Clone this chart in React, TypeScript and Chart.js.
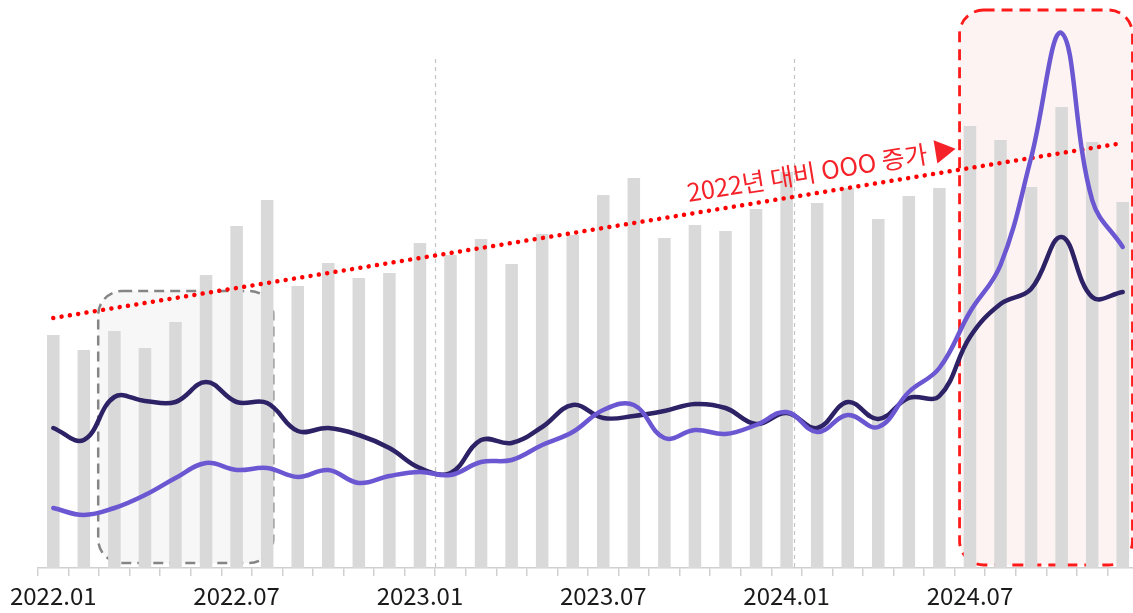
import React, { useEffect, useRef } from "react";
import { Chart, registerables } from "chart.js";

Chart.register(...registerables);

const categories = [
  "2022.01", "2022.02", "2022.03", "2022.04", "2022.05", "2022.06",
  "2022.07", "2022.08", "2022.09", "2022.10", "2022.11", "2022.12",
  "2023.01", "2023.02", "2023.03", "2023.04", "2023.05", "2023.06",
  "2023.07", "2023.08", "2023.09", "2023.10", "2023.11", "2023.12",
  "2024.01", "2024.02", "2024.03", "2024.04", "2024.05", "2024.06",
  "2024.07", "2024.08", "2024.09", "2024.10", "2024.11", "2024.12",
];

const tickLabels = ["2022.01", "2022.07", "2023.01", "2023.07", "2024.01", "2024.07"];

const barValues = [
  233, 218, 237, 220, 246, 293, 342, 368, 282, 305, 290, 295,
  325, 313, 329, 304, 334, 333, 373, 390, 330, 343, 337, 359,
  396, 365, 380, 349, 372, 380, 442, 428, 381, 461, 426, 366,
];

const navyValues = [
  140, 128, 171, 167, 166, 186, 166, 165, 137, 140, 133, 120,
  100, 95, 128, 125, 141, 163, 150, 152, 157, 164, 160, 144,
  155, 140, 166, 149, 170, 172, 231, 264, 279, 331, 271, 276,
];

const purpleValues = [
  60, 53, 60, 73, 90, 105, 98, 100, 91, 98, 85, 92,
  96, 93, 106, 108, 123, 136, 158, 163, 130, 138, 134, 143,
  156, 136, 153, 141, 176, 200, 256, 303, 410, 535, 368, 321,
];

const trendEnds = [250, 425];

const annotationText = "2022년 대비 OOO 증가 ▶";

const FONT = '"Noto Sans CJK KR", "Noto Sans", sans-serif';

function roundRect(ctx: CanvasRenderingContext2D, x: number, y: number, w: number, h: number, r: number) {
  ctx.beginPath();
  ctx.moveTo(x + r, y);
  ctx.lineTo(x + w - r, y);
  ctx.arcTo(x + w, y, x + w, y + r, r);
  ctx.lineTo(x + w, y + h - r);
  ctx.arcTo(x + w, y + h, x + w - r, y + h, r);
  ctx.lineTo(x + r, y + h);
  ctx.arcTo(x, y + h, x, y + h - r, r);
  ctx.lineTo(x, y + r);
  ctx.arcTo(x, y, x + r, y, r);
  ctx.closePath();
}

const backgroundPlugin = {
  id: "bgAnnotations",
  beforeDatasetsDraw(chart: any) {
    const { ctx, scales } = chart;
    const xs = scales.x;
    const ys = scales.y;
    const step = xs.getPixelForValue(1) - xs.getPixelForValue(0);
    const px = (v: number) => xs.getPixelForValue(0) + v * step;
    ctx.save();

    // vertical dashed separators
    ctx.strokeStyle = "#c4c4c4";
    ctx.lineWidth = 1.2;
    ctx.setLineDash([4, 4]);
    [12.5, 24.23].forEach((v) => {
      const x = Math.round(px(v)) + 0.5;
      ctx.beginPath();
      ctx.moveTo(x, ys.getPixelForValue(509));
      ctx.lineTo(x, ys.getPixelForValue(0));
      ctx.stroke();
    });

    // gray box
    {
      const x1 = px(1.47), x2 = px(7.2);
      const y1 = ys.getPixelForValue(277), y2 = ys.getPixelForValue(5);
      roundRect(ctx, x1, y1, x2 - x1, y2 - y1, 24);
      ctx.setLineDash([]);
      ctx.fillStyle = "#f7f7f7";
      ctx.fill();
      ctx.setLineDash([10, 6]);
      ctx.strokeStyle = "#858585";
      ctx.lineWidth = 2.5;
      ctx.stroke();
    }
    // red box
    {
      const x1 = px(29.66), x2 = px(35.32);
      const y1 = ys.getPixelForValue(558), y2 = ys.getPixelForValue(3);
      roundRect(ctx, x1, y1, x2 - x1, y2 - y1, 24);
      ctx.setLineDash([]);
      ctx.fillStyle = "#fdf3f3";
      ctx.fill();
      ctx.setLineDash([11, 7]);
      ctx.strokeStyle = "#ff1a1a";
      ctx.lineWidth = 2.8;
      ctx.stroke();
    }
    ctx.restore();
  },
  afterDatasetsDraw(chart: any) {
    const { ctx, scales } = chart;
    const xs = scales.x;
    const ys = scales.y;
    const n = categories.length;
    const xA = xs.getPixelForValue(0), yA = ys.getPixelForValue(trendEnds[0]);
    const xB = xs.getPixelForValue(n - 1), yB = ys.getPixelForValue(trendEnds[1]);
    const ang = Math.atan2(yB - yA, xB - xA);
    const step = xs.getPixelForValue(1) - xs.getPixelForValue(0);
    const t = 20.8;
    const sx = xA + t * step;
    const sy = yA + (yB - yA) * (t / (n - 1)) - 12;
    ctx.save();
    ctx.translate(sx, sy);
    ctx.rotate(ang);
    ctx.font = `25px ${FONT}`;
    ctx.fillStyle = "#f5222a";
    ctx.textAlign = "left";
    ctx.textBaseline = "alphabetic";
    ctx.fillText(annotationText, 0, 0);
    ctx.restore();
  },
};

export default function App() {
  const ref = useRef<HTMLCanvasElement | null>(null);
  useEffect(() => {
    if (!ref.current) return;
    const n = categories.length;
    const trendData = categories.map((_, i) => (i === 0 ? trendEnds[0] : i === n - 1 ? trendEnds[1] : null));
    const chart = new Chart(ref.current, {
      type: "bar",
      data: {
        labels: categories,
        datasets: [
          {
            type: "line",
            data: purpleValues,
            borderColor: "#6b57d2",
            borderWidth: 4.5,
            tension: 0.4,
            pointRadius: 0,
            borderCapStyle: "round",
            order: 1,
          } as any,
          {
            type: "line",
            data: navyValues,
            borderColor: "#2d2266",
            borderWidth: 4.5,
            tension: 0.4,
            pointRadius: 0,
            borderCapStyle: "round",
            order: 2,
          } as any,
          {
            type: "line",
            data: trendData,
            borderColor: "#ff0000",
            borderWidth: 4.5,
            borderDash: [0.01, 8.4],
            borderCapStyle: "round",
            spanGaps: true,
            pointRadius: 0,
            tension: 0,
            order: 3,
          } as any,
          {
            type: "bar",
            data: barValues,
            backgroundColor: "#d9d9d9",
            barPercentage: 0.41,
            categoryPercentage: 1,
            order: 4,
          } as any,
        ],
      },
      options: {
        responsive: false,
        animation: false,
        devicePixelRatio: 1,
        layout: { padding: { left: 38, right: 2, top: 8, bottom: 0 } },
        plugins: { legend: { display: false }, tooltip: { enabled: false } },
        scales: {
          x: {
            offset: true,
            grid: {
              display: true,
              offset: true,
              drawOnChartArea: false,
              drawTicks: true,
              tickLength: 8,
              color: "#d0d0d0",
              lineWidth: 1.5,
            },
            border: { display: true, color: "#d0d0d0", width: 1.5 },
            ticks: {
              autoSkip: false,
              maxRotation: 0,
              minRotation: 0,
              padding: 5,
              color: "#1a1a1a",
              font: { family: FONT, size: 24 },
              callback: (_v: any, i: number) => (tickLabels.includes(categories[i]) ? categories[i] : ""),
            },
            afterFit: (axis: any) => {
              axis.height = 45;
            },
          },
          y: {
            display: false,
            min: 0,
            max: 560,
          },
        },
      },
      plugins: [backgroundPlugin],
    });
    return () => chart.destroy();
  }, []);
  return (
    <div style={{ position: "fixed", left: 0, top: 0, width: 1133, height: 613, overflow: "hidden", background: "#fff" }}>
      <canvas ref={ref} width={1140} height={613} style={{ width: 1140, height: 613, display: "block" }} />
    </div>
  );
}
